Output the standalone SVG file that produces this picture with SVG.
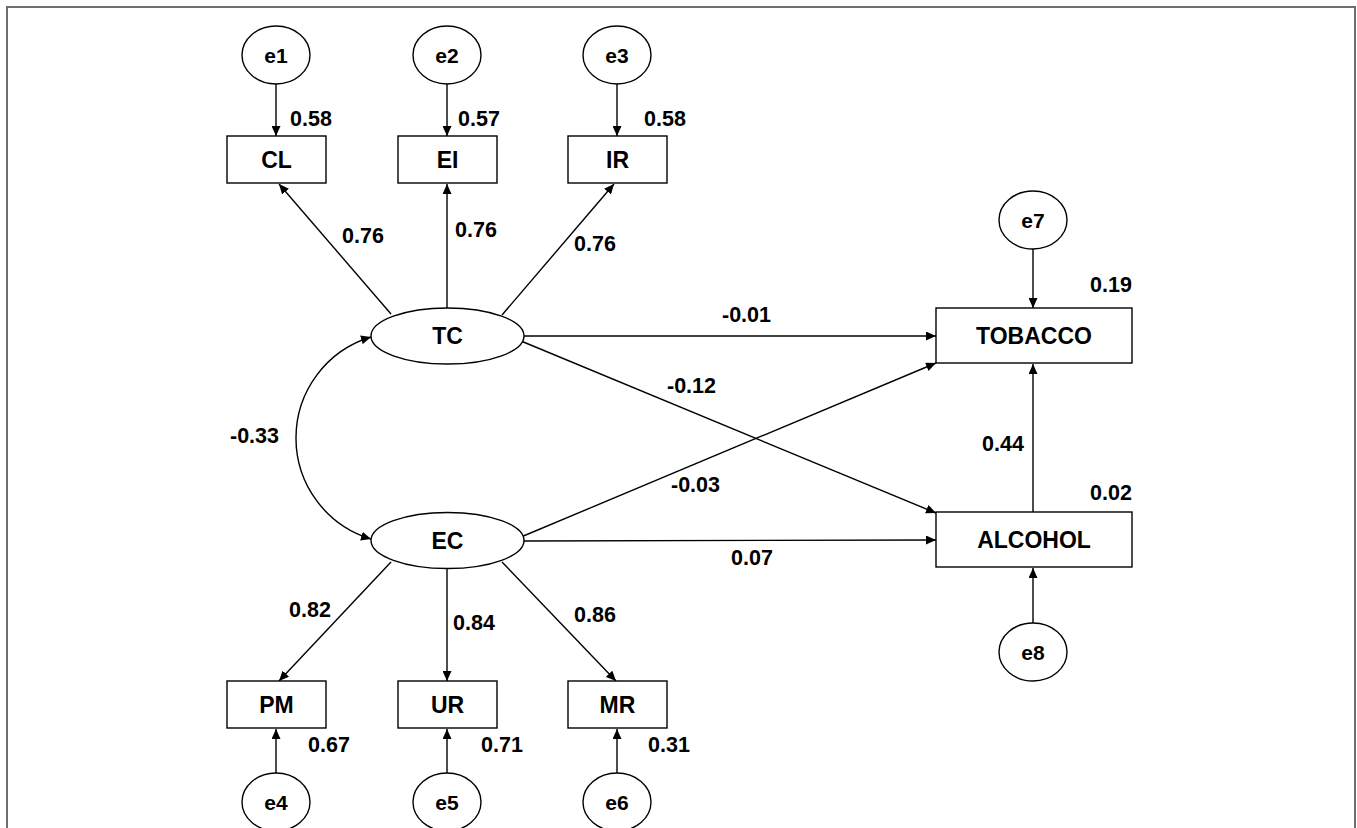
<svg xmlns="http://www.w3.org/2000/svg" width="1357" height="828" viewBox="0 0 1357 828">
<style>
.node{fill:#fff;stroke:#000;stroke-width:1.4}
.lbl{font-family:"Liberation Sans",Arial,sans-serif;font-weight:bold;font-size:23px;fill:#000;text-anchor:middle}
.err{font-size:21px}
.num{font-family:"Liberation Sans",Arial,sans-serif;font-weight:bold;font-size:21.5px;fill:#000}
.edge{fill:none;stroke:#000;stroke-width:1.4;marker-end:url(#ah)}
</style>
<defs>
<marker id="ah" markerUnits="userSpaceOnUse" markerWidth="11" markerHeight="9" refX="10" refY="4.5" orient="auto-start-reverse" viewBox="0 0 11 9">
<path d="M0,0 L10,4.5 L0,9 z" fill="#000"/>
</marker>
</defs>
<rect x="0" y="0" width="1357" height="828" fill="#fff"/>
<rect x="7" y="7" width="1348" height="832" fill="none" stroke="#6e6e6e" stroke-width="2"/>

<g id="connectors">
<line class="edge" x1="276" y1="84" x2="276" y2="136"/>
<line class="edge" x1="447" y1="84" x2="447" y2="136"/>
<line class="edge" x1="617" y1="84" x2="617" y2="136"/>
<line class="edge" x1="391" y1="314" x2="279" y2="184"/>
<line class="edge" x1="447" y1="308" x2="447" y2="184"/>
<line class="edge" x1="502" y1="315" x2="614" y2="184"/>
<line class="edge" x1="524" y1="336" x2="936" y2="336"/>
<line class="edge" x1="521" y1="341" x2="936" y2="513"/>
<line class="edge" x1="521" y1="537" x2="936" y2="363"/>
<line class="edge" x1="524" y1="541" x2="936" y2="540"/>
<line class="edge" x1="391" y1="562" x2="279" y2="681"/>
<line class="edge" x1="447" y1="569" x2="447" y2="681"/>
<line class="edge" x1="502" y1="562" x2="616" y2="681"/>
<line class="edge" x1="276" y1="773" x2="276" y2="729"/>
<line class="edge" x1="447" y1="773" x2="447" y2="729"/>
<line class="edge" x1="617" y1="773" x2="617" y2="729"/>
<line class="edge" x1="1033" y1="249" x2="1033" y2="308"/>
<line class="edge" x1="1033" y1="512" x2="1033" y2="364"/>
<line class="edge" x1="1033" y1="623" x2="1033" y2="568"/>
<path class="edge" style="marker-start:url(#ah)" d="M371,337 A105.5,105.5 0 0 0 371,539"/>
</g>

<g id="e1"><ellipse class="node" cx="276" cy="55" rx="34" ry="29"/><text class="lbl err" x="276" y="63">e1</text></g>
<g id="e2"><ellipse class="node" cx="447" cy="55" rx="34" ry="29"/><text class="lbl err" x="447" y="63">e2</text></g>
<g id="e3"><ellipse class="node" cx="617" cy="55" rx="34" ry="29"/><text class="lbl err" x="617" y="63">e3</text></g>

<g id="CL"><rect class="node" x="227" y="136" width="99" height="47"/><text class="lbl" x="276.5" y="168">CL</text></g>
<g id="EI"><rect class="node" x="398" y="136" width="99" height="47"/><text class="lbl" x="447.5" y="168">EI</text></g>
<g id="IR"><rect class="node" x="568" y="136" width="99" height="47"/><text class="lbl" x="617.5" y="168">IR</text></g>

<g id="TC"><ellipse class="node" cx="447.5" cy="336" rx="76.5" ry="28"/><text class="lbl" x="447.5" y="344">TC</text></g>
<g id="EC"><ellipse class="node" cx="447.5" cy="540.5" rx="76.5" ry="28"/><text class="lbl" x="447.5" y="549">EC</text></g>

<g id="PM"><rect class="node" x="227" y="681" width="99" height="47"/><text class="lbl" x="276.5" y="713">PM</text></g>
<g id="UR"><rect class="node" x="398" y="681" width="99" height="47"/><text class="lbl" x="447.5" y="713">UR</text></g>
<g id="MR"><rect class="node" x="568" y="681" width="99" height="47"/><text class="lbl" x="617.5" y="713">MR</text></g>

<g id="e4"><ellipse class="node" cx="276" cy="802" rx="34" ry="29"/><text class="lbl err" x="276" y="810">e4</text></g>
<g id="e5"><ellipse class="node" cx="447" cy="802" rx="34" ry="29"/><text class="lbl err" x="447" y="810">e5</text></g>
<g id="e6"><ellipse class="node" cx="617" cy="802" rx="34" ry="29"/><text class="lbl err" x="617" y="810">e6</text></g>

<g id="TOBACCO"><rect class="node" x="936" y="308" width="196" height="55"/><text class="lbl" x="1034" y="344">TOBACCO</text></g>
<g id="ALCOHOL"><rect class="node" x="936" y="512" width="196" height="55"/><text class="lbl" x="1034" y="548">ALCOHOL</text></g>
<g id="e7"><ellipse class="node" cx="1033" cy="220" rx="34" ry="29"/><text class="lbl err" x="1033" y="228">e7</text></g>
<g id="e8"><ellipse class="node" cx="1033" cy="652" rx="34" ry="29"/><text class="lbl err" x="1033" y="660">e8</text></g>

<g id="labels">
<text class="num" x="290" y="126">0.58</text>
<text class="num" x="458" y="126">0.57</text>
<text class="num" x="644" y="126">0.58</text>
<text class="num" x="342" y="243">0.76</text>
<text class="num" x="455" y="237">0.76</text>
<text class="num" x="574" y="251">0.76</text>
<text class="num" x="722" y="322">-0.01</text>
<text class="num" x="667" y="393">-0.12</text>
<text class="num" x="671" y="492">-0.03</text>
<text class="num" x="731" y="565">0.07</text>
<text class="num" x="982" y="451">0.44</text>
<text class="num" x="1090" y="292">0.19</text>
<text class="num" x="1090" y="500">0.02</text>
<text class="num" x="230" y="443">-0.33</text>
<text class="num" x="289" y="617">0.82</text>
<text class="num" x="453" y="630">0.84</text>
<text class="num" x="574" y="622">0.86</text>
<text class="num" x="308" y="752">0.67</text>
<text class="num" x="481" y="752">0.71</text>
<text class="num" x="648" y="752">0.31</text>
</g>
</svg>
